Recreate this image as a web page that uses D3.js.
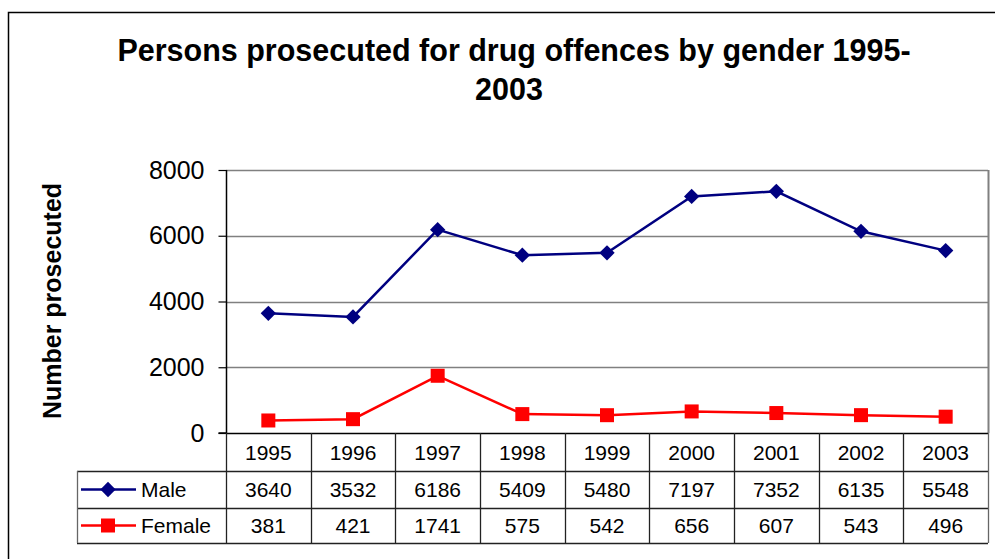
<!DOCTYPE html>
<html><head><meta charset="utf-8">
<script src="https://cdn.jsdelivr.net/npm/d3@7"></script>
<style>body{margin:0;background:#fff}svg{display:block;font-family:"Liberation Sans",Arial,sans-serif}</style>
</head><body>
<svg id="c" width="995" height="559"></svg>
<script>
const years = ["1995","1996","1997","1998","1999","2000","2001","2002","2003"];
const male = [3640,3532,6186,5409,5480,7197,7352,6135,5548];
const female = [381,421,1741,575,542,656,607,543,496];
const yTicks = [0,2000,4000,6000,8000];
const titleLines = ["Persons prosecuted for drug offences by gender 1995-","2003"];
const yTitle = "Number prosecuted";
const series = [
  {name:"Male", values:male, color:"#000080", marker:"diamond"},
  {name:"Female", values:female, color:"#FF0000", marker:"square"}
];

const svg = d3.select("#c");
const L=226, R=988, T=170, B=433;
const rowH=[B, 471, 508, 543];
const legL=77;

// outer border
svg.append("rect").attr("x",8.5).attr("y",12.5).attr("width",1100).attr("height",700)
  .attr("fill","none").attr("stroke","#000").attr("stroke-width",1.5);

// title
svg.append("g").selectAll("text").data(titleLines).join("text")
  .attr("x",(d,i)=> i===0?514:509).attr("y",(d,i)=>61+i*39)
  .attr("text-anchor","middle").attr("font-weight","bold").attr("font-size",30.5)
  .text(d=>d);

const x = d3.scaleBand().domain(years).range([L,R]).paddingInner(0).paddingOuter(0);
const y = d3.scaleLinear().domain([0,8000]).range([B,T]);

// gridlines
svg.append("g").selectAll("line").data(yTicks.filter(d=>d>0)).join("line")
  .attr("x1",L).attr("x2",R).attr("y1",d=>Math.round(y(d))+0.5).attr("y2",d=>Math.round(y(d))+0.5)
  .attr("stroke","#808080").attr("stroke-width",1.5);
// right border
svg.append("line").attr("x1",R+0.5).attr("x2",R+0.5).attr("y1",T).attr("y2",B)
  .attr("stroke","#808080").attr("stroke-width",2);

// y axis
const yAxis = d3.axisLeft(y).tickValues(yTicks).tickSize(8).tickPadding(14).tickFormat(d3.format("d"));
const ga = svg.append("g").attr("transform",`translate(${L+0.5},0)`).call(yAxis);
ga.select(".domain").attr("stroke","#000").attr("stroke-width",1.5).attr("d",`M-8,${y(0)}H0V${T}`);
ga.selectAll(".tick line").attr("stroke","#000").attr("stroke-width",1.2);
ga.selectAll(".tick text").attr("font-size",25).attr("fill","#000").attr("font-family","Liberation Sans, Arial, sans-serif");

// y title
svg.append("text").attr("transform","translate(61,301) rotate(-90)")
  .attr("text-anchor","middle").attr("font-weight","bold").attr("font-size",25).text(yTitle);

// table lines
const tg = svg.append("g").attr("stroke","#222").attr("stroke-width",1.3).attr("fill","none");
tg.append("line").attr("x1",L).attr("x2",R).attr("y1",B+0.5).attr("y2",B+0.5).attr("stroke","#000").attr("stroke-width",1.5);
[1,2,3].forEach(i=>{
  tg.append("line").attr("x1",legL).attr("x2",R).attr("y1",rowH[i]+0.5).attr("y2",rowH[i]+0.5);
});
years.forEach(yr=>{
  tg.append("line").attr("x1",Math.round(x(yr))+0.5).attr("x2",Math.round(x(yr))+0.5).attr("y1",B).attr("y2",rowH[3]);
});
tg.append("line").attr("x1",R+0.5).attr("x2",R+0.5).attr("y1",B).attr("y2",rowH[3]).attr("stroke","#666");
tg.append("line").attr("x1",legL+0.5).attr("x2",legL+0.5).attr("y1",rowH[1]).attr("y2",rowH[3]).attr("stroke","#666");

// header row
svg.append("g").selectAll("text").data(years).join("text")
  .attr("x",d=>x(d)+x.bandwidth()/2).attr("y",(rowH[0]+rowH[1])/2+7.5)
  .attr("text-anchor","middle").attr("font-size",21).text(d=>d);

const symDiamond = d3.symbol().type(d3.symbolDiamond2).size(150);
function drawMarker(g, s, cx, cy){
  if(s.marker==="diamond"){
    g.append("path").attr("d",symDiamond()).attr("transform",`translate(${cx},${cy})`).attr("fill",s.color);
  } else {
    g.append("rect").attr("x",cx-7).attr("y",cy-7).attr("width",14).attr("height",14).attr("fill",s.color);
  }
}

series.forEach((s,si)=>{
  const cy = (rowH[si+1]+rowH[si+2])/2;
  svg.append("g").selectAll("text").data(s.values).join("text")
    .attr("x",(d,i)=>x(years[i])+x.bandwidth()/2).attr("y",cy+7.5)
    .attr("text-anchor","middle").attr("font-size",21).text(d=>d);
  const lg = svg.append("g");
  lg.append("line").attr("x1",81).attr("x2",136).attr("y1",cy).attr("y2",cy).attr("stroke",s.color).attr("stroke-width",2.5);
  drawMarker(lg, s, 108, cy);
  lg.append("text").attr("x",141).attr("y",cy+7.5).attr("font-size",21).text(s.name);
  const line = d3.line().x((d,i)=>x(years[i])+x.bandwidth()/2).y(d=>y(d));
  svg.append("path").datum(s.values).attr("d",line).attr("fill","none").attr("stroke",s.color).attr("stroke-width",2.5);
  const mg = svg.append("g");
  s.values.forEach((v,i)=>drawMarker(mg, s, x(years[i])+x.bandwidth()/2, y(v)));
});
</script>
</body></html>
